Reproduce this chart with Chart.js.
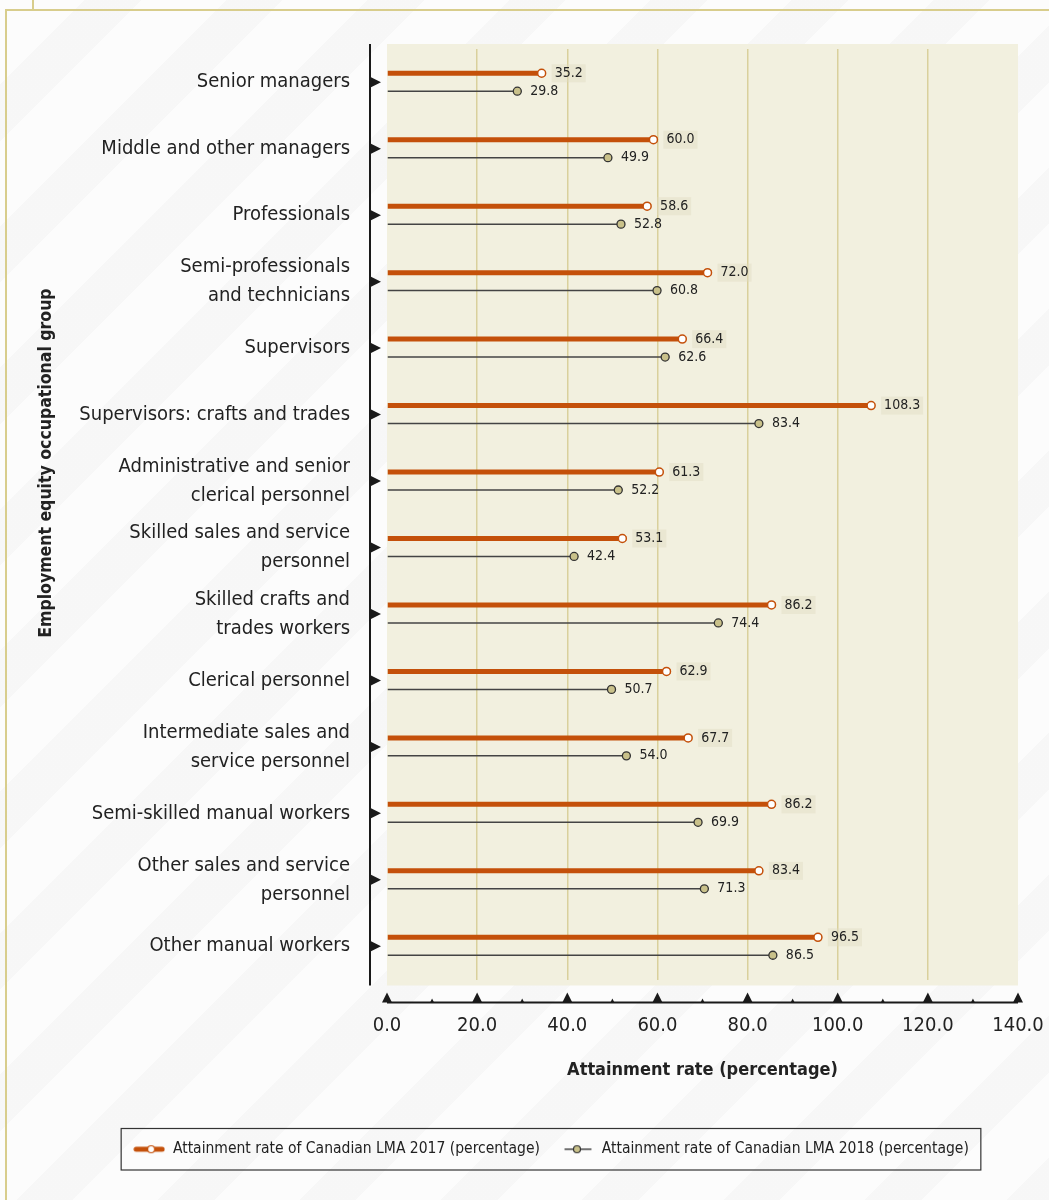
<!DOCTYPE html>
<html>
<head>
<meta charset="utf-8">
<title>Attainment rate by occupational group</title>
<script src="https://cdn.jsdelivr.net/npm/chart.js@4/dist/chart.umd.min.js"></script>
<style>
  html, body { margin: 0; padding: 0; }
  body {
    width: 1049px; height: 1200px; position: relative; overflow: hidden;
    background: #fcfcfc;
    background-image: repeating-linear-gradient(135deg, rgba(255,255,255,0) 0px, rgba(255,255,255,0) 60px, rgba(238,238,238,0.35) 60px, rgba(238,238,238,0.35) 100px);
  }
  .cadre { position: absolute; left: 5px; top: 9px; right: 0; bottom: 0; border-left: 2px solid #d8cd8c; border-top: 2px solid #d8cd8c; }
  .cran { position: absolute; left: 32px; top: 0; width: 2px; height: 10px; background: #d8cd8c; }
  #wrap { position: absolute; left: 0; top: 0; width: 1049px; height: 1200px; }
</style>
</head>
<body>
<div class="cadre"></div>
<div class="cran"></div>
<div id="wrap"><canvas id="grafico" width="1049" height="1200"></canvas></div>
<script>
// groupes professionnels (axe vertical)
var groupes = [
  'Senior managers',
  'Middle and other managers',
  'Professionals',
  ['Semi-professionals', 'and technicians'],
  'Supervisors',
  'Supervisors: crafts and trades',
  ['Administrative and senior', 'clerical personnel'],
  ['Skilled sales and service', 'personnel'],
  ['Skilled crafts and', 'trades workers'],
  'Clerical personnel',
  ['Intermediate sales and', 'service personnel'],
  'Semi-skilled manual workers',
  ['Other sales and service', 'personnel'],
  'Other manual workers'
]

// taux d'atteinte
var taux2017 = [35.2, 60.0, 58.6, 72.0, 66.4, 108.3, 61.3, 53.1, 86.2, 62.9, 67.7, 86.2, 83.4, 96.5]
var taux2018 = [29.8, 49.9, 52.8, 60.8, 62.6, 83.4, 52.2, 42.4, 74.4, 50.7, 54.0, 69.9, 71.3, 86.5]

var ticksX = [0, 20, 40, 60, 80, 100, 120, 140]

var nomSerie2017 = 'Attainment rate of Canadian LMA 2017 (percentage)'
var nomSerie2018 = 'Attainment rate of Canadian LMA 2018 (percentage)'
var tituloX = 'Attainment rate (percentage)'
var tituloY = 'Employment equity occupational group'

var fonte = "'DejaVu Sans Condensed', 'Liberation Sans Narrow', Roboto, sans-serif"
var laranja = '#c4500a'
var cinza = '#444444'
var caqui = '#c9c18a'

// petits symboles pour la légende
function simbolo(cor, espessura, recheio, borda, cx) {
  var c = document.createElement('canvas')
  c.width = 32; c.height = 12
  var g = c.getContext('2d')
  g.strokeStyle = cor
  g.lineWidth = espessura
  g.lineCap = 'round'
  g.beginPath(); g.moveTo(3, 6); g.lineTo(29, 6); g.stroke()
  g.beginPath(); g.arc(cx, 6, 3.5, 0, Math.PI * 2)
  g.fillStyle = recheio; g.fill()
  g.lineWidth = 1.2; g.strokeStyle = borda; g.stroke()
  return c
}
var sim2017 = simbolo(laranja, 5, '#ffffff', laranja, 18)
var sim2018 = simbolo(cinza, 1.3, caqui, '#333333', 15)

// fond de la zone de tracé, axes fléchés, marqueurs et étiquettes
var decor = {
  id: 'decor',
  afterLayout: function (chart) {
    // légende un peu décalée vers la droite
    var leg = chart.legend
    var d = 551 - (leg.left + leg.right) / 2
    leg.left += d; leg.right += d
    if (leg.legendHitBoxes) leg.legendHitBoxes.forEach(function (h) { h.left += d })
  },
  beforeDraw: function (chart) {
    var ctx = chart.ctx, a = chart.chartArea
    ctx.save()
    ctx.fillStyle = '#f2f0df'
    ctx.fillRect(a.left, a.top - 5, a.right - a.left, a.bottom - a.top + 11)
    ctx.restore()
  },
  afterDraw: function (chart) {
    var ctx = chart.ctx, a = chart.chartArea
    var sx = chart.scales.x, sy = chart.scales.y
    ctx.save()

    // axe vertical avec flèches
    ctx.strokeStyle = '#1a1a1a'
    ctx.lineWidth = 2
    ctx.beginPath(); ctx.moveTo(a.left - 17, a.top - 5); ctx.lineTo(a.left - 17, a.bottom + 6); ctx.stroke()
    ctx.fillStyle = '#1a1a1a'
    for (let i = 0; i < groupes.length; i++) {
      var yy = sy.getPixelForValue(i)
      ctx.beginPath()
      ctx.moveTo(a.left - 16, yy - 5); ctx.lineTo(a.left - 6, yy); ctx.lineTo(a.left - 16, yy + 5)
      ctx.closePath(); ctx.fill()
    }

    // axe horizontal avec triangles
    var yb = a.bottom + 23
    ctx.beginPath(); ctx.moveTo(sx.getPixelForValue(0), yb); ctx.lineTo(sx.getPixelForValue(140), yb); ctx.stroke()
    for (let v = 0; v <= 140; v += 10) {
      var xx = sx.getPixelForValue(v)
      var grande = v % 20 == 0
      var w = grande ? 5 : 2, h = grande ? 10 : 4
      ctx.beginPath()
      ctx.moveTo(xx - w, yb); ctx.lineTo(xx, yb - h); ctx.lineTo(xx + w, yb)
      ctx.closePath(); ctx.fill()
    }

    // titre de l'axe vertical
    ctx.translate(46, a.top + (a.bottom - a.top) * 0.445)
    ctx.rotate(-Math.PI / 2)
    ctx.font = "bold 17.5px " + fonte
    ctx.textAlign = 'center'
    ctx.textBaseline = 'middle'
    ctx.fillStyle = '#222'
    ctx.fillText(tituloY, 0, 0)
    ctx.restore()

    // marqueurs et valeurs au bout des barres
    ctx.save()
    ctx.font = "14px " + fonte
    ctx.textBaseline = 'middle'
    chart.data.datasets.forEach(function (ds, d) {
      var meta = chart.getDatasetMeta(d)
      meta.data.forEach(function (el, i) {
        var r = 4
        var cx = el.x - r
        ctx.beginPath(); ctx.arc(cx, el.y, r, 0, Math.PI * 2)
        if (d == 0) {
          ctx.fillStyle = '#ffffff'; ctx.fill()
          ctx.lineWidth = 1.5; ctx.strokeStyle = laranja; ctx.stroke()
        } else {
          ctx.fillStyle = caqui; ctx.fill()
          ctx.lineWidth = 1.3; ctx.strokeStyle = '#333'; ctx.stroke()
        }
        var txt = ds.data[i].toFixed(1)
        var tx = el.x + 9
        if (d == 0) {
          var tw = ctx.measureText(txt).width
          ctx.fillStyle = 'rgba(225,220,195,0.45)'
          ctx.fillRect(tx - 3, el.y - 9, tw + 6, 18)
        }
        ctx.fillStyle = '#222'
        ctx.fillText(txt, tx, el.y)
      })
    })
    ctx.restore()

    // cadre de la légende
    var leg = chart.legend
    if (leg && leg.legendHitBoxes && leg.legendHitBoxes.length) {
      var hb = leg.legendHitBoxes
      var x0 = hb[0].left, x1 = hb[hb.length - 1].left + hb[hb.length - 1].width
      var y0 = hb[0].top, y1 = hb[0].top + hb[0].height
      ctx.save()
      ctx.strokeStyle = '#333'
      ctx.lineWidth = 1.2
      ctx.strokeRect(x0 - 12, y0 - 13, x1 - x0 + 24, y1 - y0 + 26)
      ctx.restore()
    }
  }
}

var dados = {
  labels: groupes,
  datasets: [
    {
      label: nomSerie2017,
      data: taux2017,
      backgroundColor: laranja,
      barPercentage: 1,
      categoryPercentage: 0.54,
      maxBarThickness: 5
    },
    {
      label: nomSerie2018,
      data: taux2018,
      backgroundColor: cinza,
      barPercentage: 1,
      categoryPercentage: 0.54,
      maxBarThickness: 1.5
    }
  ]
}

var config = {
  type: 'bar',
  data: dados,
  options: {
    indexAxis: 'y',
    responsive: false,
    animation: false,
    layout: { padding: { top: 49, right: 3, left: 0, bottom: 33 } },
    plugins: {
      tooltip: { enabled: false },
      legend: {
        position: 'bottom',
        labels: {
          font: { family: fonte, size: 15.5 },
          color: '#222',
          usePointStyle: true,
          pointStyleWidth: 32,
          boxHeight: 12,
          padding: 22,
          generateLabels: function (chart) {
            return [
              { text: nomSerie2017, pointStyle: sim2017, fillStyle: laranja, strokeStyle: laranja, lineWidth: 0, datasetIndex: 0, hidden: false, fontColor: '#222' },
              { text: nomSerie2018, pointStyle: sim2018, fillStyle: cinza, strokeStyle: cinza, lineWidth: 0, datasetIndex: 1, hidden: false, fontColor: '#222' }
            ]
          }
        }
      }
    },
    scales: {
      x: {
        min: 0,
        max: 140,
        afterBuildTicks: function (scale) {
          scale.ticks = ticksX.map(function (v) { return { value: v } })
        },
        afterFit: function (scale) {
          // hauteur fixe et marge droite limitée à la moitié du dernier libellé
          scale.height = 140
          scale.paddingRight = 31
          scale.paddingLeft = 0
        },
        grid: {
          color: function (c) {
            var v = c.tick ? c.tick.value : 0
            return (v == 0 || v == 140) ? 'rgba(0,0,0,0)' : '#d9d09c'
          },
          lineWidth: 1.5,
          drawTicks: false
        },
        border: { display: false },
        ticks: {
          padding: 34,
          color: '#222',
          font: { family: fonte, size: 20 },
          callback: function (v) { return Number(v).toFixed(1) }
        },
        title: {
          display: true,
          text: tituloX,
          color: '#222',
          font: { family: fonte, size: 18, weight: 'bold' },
          padding: { top: 0, bottom: 38 }
        }
      },
      y: {
        grid: { display: false },
        border: { display: false },
        afterFit: function (scale) { scale.width = 387 },
        ticks: {
          padding: 29,
          color: '#222',
          font: { family: fonte, size: 20, lineHeight: 1.45 }
        }
      }
    }
  },
  plugins: [decor]
}

var myChart = new Chart(document.getElementById('grafico'), config)
</script>
</body>
</html>
